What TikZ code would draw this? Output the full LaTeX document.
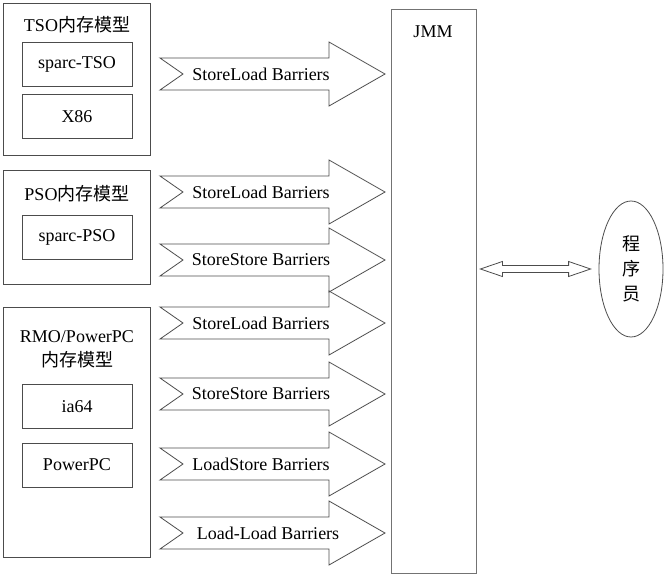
\documentclass[tikz,border=0pt]{standalone}
\usepackage{fontspec}
\setmainfont{Liberation Serif}
\newfontfamily\cjk{Noto Sans CJK SC}
\usetikzlibrary{shapes.geometric,calc}

\begin{document}
\begin{tikzpicture}[x=1pt, y=-1pt, line width=0.8pt,
    font=\fontsize{18}{24}\selectfont,
    group/.style={draw=black!70, inner sep=0pt, minimum width=147},
    chip/.style={draw=black!70, inner sep=0pt, minimum width=110, minimum height=44},
    barrier/.style={draw=black!70}]
  \useasboundingbox (0,0) rectangle (666,578);
  % memory models
  \node[group, minimum height=152] (tso) at (76.5,79) {};
  \node (tsotitle) at (77,25) {TSO{\cjk 内存模型}};
  \node[chip] (sparctso) at (77,64) {sparc-TSO};
  \node[chip] (xeightysix) at (77,116.5) {X86};
  \node[group, minimum height=114] (pso) at (76.5,227) {};
  \node (psotitle) at (77,194) {PSO{\cjk 内存模型}};
  \node[chip] (sparcpso) at (77,237.5) {sparc-PSO};
  \node[group, minimum height=250] (rmo) at (76.5,432) {};
  \node[align=center] (rmotitle) at (77,349) {RMO/PowerPC\\{\cjk 内存模型}};
  \node[chip] (iasixtyfour) at (77,406.5) {ia64};
  \node[chip] (powerpc) at (77,465) {PowerPC};
  % barriers
  \foreach \c/\lbl/\dx [count=\i] in {74/StoreLoad Barriers/0, 192/StoreLoad Barriers/0,
      260/StoreStore Barriers/0, 323/StoreLoad Barriers/0, 394/StoreStore Barriers/0,
      464/LoadStore Barriers/0, 533/Load-Load Barriers/7}{
    \draw[barrier] (160,\c-16) -- (329,\c-16) -- (329,\c-32) -- (385,\c)
      -- (329,\c+32) -- (329,\c+16) -- (160,\c+16) -- (183,\c) -- cycle;
    \node (bar\i) at (261+\dx,\c) {\lbl};
  }
  % JMM and programmer
  \node[draw=black!55, inner sep=0pt, minimum width=85, minimum height=564] (jmm) at (433.5,291) {};
  \node (jmmlabel) at (433,32) {JMM};
  \node[ellipse, draw=black!70, inner sep=0pt, minimum width=64, minimum height=136,
    align=center, font={\cjk\fontsize{18}{25}\selectfont}] (coder) at (631,269) {程\\序\\员};
  \coordinate (linkl) at ($(jmm.east |- coder.west)+(4,0)$);
  \coordinate (linkr) at ($(coder.west)+(-8,0)$);
  \draw[barrier] (linkl) -- ++(22,-7.5) -- ++(0,4) -- ($(linkr)+(-22,-3.5)$) -- ++(0,-4)
    -- (linkr) -- ++(-22,7.5) -- ++(0,-4) -- ($(linkl)+(22,3.5)$) -- ++(0,4) -- cycle;
\end{tikzpicture}
\end{document}
